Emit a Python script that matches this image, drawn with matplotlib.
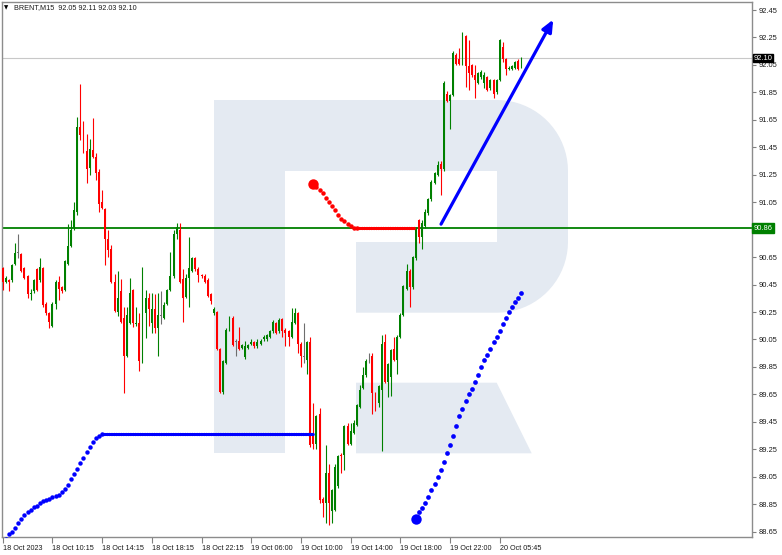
import numpy as np
import matplotlib.pyplot as plt
from matplotlib.patches import Polygon, Rectangle
from matplotlib.transforms import blended_transform_factory

plt.rcParams['font.family'] = ['Liberation Sans', 'DejaVu Sans']

# BRENT M15 candles (open, high, low, close)
opens = [90.57, 90.47, 90.48, 90.48, 90.60, 90.68, 90.67, 90.57, 90.51, 90.38,
         90.40, 90.56, 90.48, 90.57, 90.31, 90.24, 90.15, 90.31, 90.47, 90.43,
         90.41, 90.60, 90.73, 90.86, 90.98, 91.60, 91.55, 91.42, 91.30, 91.43,
         91.38, 91.27, 91.05, 91.00, 90.78, 90.71, 90.47, 90.25, 90.40, 90.21,
         89.93, 90.17, 90.41, 90.16, 90.17, 89.89, 90.24, 90.35, 90.17, 90.27,
         90.13, 90.22, 90.21, 90.31, 90.41, 90.51, 90.82, 90.85, 90.49, 90.36,
         90.50, 90.55, 90.64, 90.56, 90.52, 90.51, 90.48, 90.38, 90.24, 90.25,
         89.98, 89.67, 89.88, 90.12, 90.21, 90.03, 90.04, 89.99, 89.92, 89.99,
         90.02, 90.03, 90.00, 90.02, 90.05, 90.05, 90.07, 90.11, 90.17, 90.11,
         90.20, 90.12, 90.11, 90.07, 90.17, 90.24, 90.02, 89.92, 89.90, 90.03,
         89.37, 89.29, 89.51, 88.89, 88.86, 89.08, 88.80, 88.81, 88.98, 89.21,
         89.21, 89.42, 89.29, 89.37, 89.43, 89.56, 89.70, 89.79, 89.89, 89.93,
         89.66, 89.59, 89.68, 90.03, 89.74, 89.78, 89.98, 89.90, 90.07, 90.23,
         90.42, 90.55, 90.43, 90.64, 90.92, 90.80, 90.88, 90.97, 91.07, 91.19,
         91.25, 91.33, 91.29, 91.84, 91.79, 91.83, 92.12, 92.09, 92.06, 92.26,
         92.04, 92.05, 91.98, 91.92, 91.96, 91.92, 91.96, 91.88, 91.94, 91.85,
         91.94, 92.18, 92.09, 92.02, 92.02, 92.03, 92.08, 92.05]
highs = [90.58, 90.51, 90.49, 90.60, 90.75, 90.82, 90.68, 90.58, 90.52, 90.42,
         90.49, 90.57, 90.64, 90.58, 90.32, 90.25, 90.32, 90.48, 90.51, 90.44,
         90.63, 90.89, 90.92, 91.05, 91.67, 91.91, 91.64, 91.55, 91.51, 91.66,
         91.41, 91.29, 91.14, 91.01, 90.85, 90.74, 90.53, 90.55, 90.49, 90.29,
         90.29, 90.50, 90.42, 90.29, 90.24, 90.58, 90.41, 90.39, 90.39, 90.38,
         90.39, 90.40, 90.32, 90.42, 90.69, 90.85, 90.90, 90.90, 90.56, 90.53,
         90.80, 90.65, 90.65, 90.58, 90.53, 90.53, 90.50, 90.39, 90.29, 90.26,
         89.99, 89.90, 90.13, 90.22, 90.22, 90.05, 90.14, 90.02, 90.04, 90.02,
         90.05, 90.04, 90.05, 90.05, 90.08, 90.09, 90.12, 90.19, 90.18, 90.21,
         90.21, 90.13, 90.12, 90.28, 90.28, 90.25, 90.03, 90.17, 90.04, 90.07,
         89.59, 89.50, 89.55, 88.90, 89.28, 89.14, 88.96, 89.14, 89.21, 89.22,
         89.43, 89.44, 89.44, 89.46, 89.58, 89.72, 89.85, 89.91, 89.95, 89.95,
         89.67, 89.72, 90.08, 90.09, 89.88, 89.98, 90.07, 90.08, 90.24, 90.45,
         90.60, 90.56, 90.66, 90.87, 90.93, 90.92, 91.00, 91.08, 91.21, 91.27,
         91.35, 91.35, 91.93, 91.86, 91.84, 92.15, 92.14, 92.17, 92.29, 92.27,
         92.23, 92.06, 92.05, 92.00, 92.01, 92.00, 91.97, 91.95, 91.95, 91.95,
         92.24, 92.22, 92.10, 92.04, 92.05, 92.08, 92.09, 92.11]
lows = [90.41, 90.46, 90.40, 90.47, 90.59, 90.64, 90.54, 90.49, 90.35, 90.34,
        90.39, 90.40, 90.47, 90.29, 90.23, 90.13, 90.14, 90.27, 90.34, 90.39,
        90.40, 90.59, 90.72, 90.85, 90.96, 91.50, 91.41, 91.19, 91.25, 91.37,
        91.21, 90.98, 91.00, 90.59, 90.65, 90.46, 90.25, 90.22, 90.17, 89.66,
        89.92, 90.16, 90.14, 90.15, 89.82, 89.88, 90.06, 90.15, 90.10, 90.10,
        89.93, 90.16, 90.20, 90.30, 90.40, 90.50, 90.78, 90.46, 90.18, 90.35,
        90.29, 90.54, 90.55, 90.47, 90.50, 90.46, 90.36, 90.31, 90.23, 89.97,
        89.66, 89.65, 89.87, 90.11, 90.00, 89.93, 89.97, 89.98, 89.91, 89.98,
        90.01, 89.99, 89.99, 90.01, 90.04, 90.04, 90.06, 90.10, 90.09, 90.10,
        90.07, 90.00, 90.00, 90.06, 90.16, 89.95, 89.85, 89.88, 89.80, 89.27,
        89.25, 89.25, 88.86, 88.76, 88.71, 88.70, 88.71, 88.80, 88.97, 89.08,
        89.10, 89.28, 89.28, 89.36, 89.42, 89.55, 89.69, 89.78, 89.88, 89.51,
        89.53, 89.56, 89.24, 89.73, 89.63, 89.64, 89.89, 89.80, 90.06, 90.22,
        90.41, 90.29, 90.42, 90.63, 90.75, 90.71, 90.86, 90.96, 91.06, 91.18,
        91.24, 91.10, 91.28, 91.78, 91.58, 91.82, 92.05, 92.05, 92.05, 91.89,
        91.87, 91.96, 91.81, 91.91, 91.95, 91.88, 91.86, 91.87, 91.81, 91.84,
        91.93, 92.07, 91.98, 92.01, 92.01, 92.02, 92.01, 92.03]
closes = [90.47, 90.50, 90.47, 90.59, 90.68, 90.68, 90.55, 90.50, 90.38, 90.39,
          90.48, 90.41, 90.58, 90.30, 90.24, 90.18, 90.31, 90.47, 90.42, 90.40,
          90.62, 90.73, 90.85, 90.99, 91.60, 91.54, 91.42, 91.29, 91.44, 91.38,
          91.26, 91.04, 91.01, 90.78, 90.70, 90.47, 90.26, 90.35, 90.18, 89.93,
          90.23, 90.39, 90.17, 90.17, 89.89, 90.25, 90.35, 90.27, 90.27, 90.13,
          90.23, 90.22, 90.30, 90.41, 90.51, 90.82, 90.87, 90.47, 90.35, 90.50,
          90.57, 90.64, 90.56, 90.52, 90.51, 90.47, 90.37, 90.33, 90.27, 89.98,
          89.67, 89.89, 90.12, 90.21, 90.01, 90.03, 89.98, 90.01, 90.00, 90.01,
          90.03, 90.00, 90.03, 90.04, 90.07, 90.08, 90.11, 90.18, 90.10, 90.19,
          90.11, 90.10, 90.07, 90.18, 90.24, 90.02, 89.93, 89.92, 90.03, 89.28,
          89.29, 89.49, 88.88, 88.86, 89.08, 88.86, 88.95, 89.12, 89.20, 89.20,
          89.42, 89.29, 89.38, 89.44, 89.57, 89.68, 89.79, 89.89, 89.89, 89.66,
          89.59, 89.71, 90.02, 89.74, 89.87, 89.97, 89.90, 90.07, 90.23, 90.44,
          90.55, 90.43, 90.65, 90.86, 90.80, 90.90, 90.98, 91.07, 91.20, 91.26,
          91.32, 91.29, 91.92, 91.79, 91.83, 92.14, 92.06, 92.06, 92.27, 92.04,
          91.99, 91.98, 91.94, 91.99, 92.00, 91.98, 91.87, 91.94, 91.84, 91.94,
          92.23, 92.09, 92.02, 92.03, 92.04, 92.07, 92.02, 92.10]

# x-axis labels, one every 16 bars
time_labels = ['18 Oct 2023', '18 Oct 10:15', '18 Oct 14:15', '18 Oct 18:15',
               '18 Oct 22:15', '19 Oct 06:00', '19 Oct 10:00', '19 Oct 14:00',
               '19 Oct 18:00', '19 Oct 22:00', '20 Oct 05:45']

# price levels
level_green = 90.86
last_price = 92.10

# indicator paths (bar index, price)
blue_low_idx = list(range(0, 33))
blue_low_px = [88.57, 88.60, 88.63, 88.65, 88.68, 88.71, 88.74, 88.77, 88.79, 88.81,
               88.83, 88.84, 88.86, 88.87, 88.88, 88.89, 88.90, 88.91, 88.92, 88.94,
               88.96, 88.99, 89.03, 89.07, 89.11, 89.15, 89.19, 89.23, 89.27, 89.30,
               89.33, 89.35, 89.36]
blue_flat = (32, 100, 89.36)

red_idx = list(range(100, 115))
red_px = [91.18, 91.16, 91.14, 91.115, 91.08, 91.05, 91.02, 90.99, 90.96, 90.93,
          90.91, 90.89, 90.875, 90.865, 90.86]
red_flat = (114, 132.5, 90.86)

blue_up_idx = list(range(133, 168))
blue_up_px = [88.74, 88.79, 88.82, 88.86, 88.90, 88.95, 89.00, 89.05, 89.10, 89.16,
              89.22, 89.28, 89.35, 89.42, 89.49, 89.54, 89.60, 89.65, 89.69, 89.74,
              89.79, 89.85, 89.90, 89.94, 89.98, 90.03, 90.07, 90.11, 90.16, 90.21,
              90.25, 90.29, 90.32, 90.35, 90.39]

arrow_start = (141.1, 90.89)
arrow_end = (177.2, 92.38)

W, H = 782, 555
fig = plt.figure(figsize=(W / 100, H / 100), dpi=100)
fig.patch.set_facecolor('white')

# watermark layer (pixel coordinates)
bg = fig.add_axes([0, 0, 1, 1])
bg.set_xlim(0, W)
bg.set_ylim(H, 0)
bg.axis('off')
wm = '#e4eaf2'
r = 71
x0, x1, y0, y1 = 214, 568, 100, 312.7
t1 = np.linspace(np.pi / 2, 0, 20)
t2 = np.linspace(0, -np.pi / 2, 20)
pts = [(x0, y0)]
pts += [(x1 - r + r * np.cos(t), y0 + r - r * np.sin(t)) for t in t1]
pts += [(x1 - r + r * np.cos(t), y1 - r - r * np.sin(t)) for t in t2]
pts += [(x0, y1)]
bg.add_patch(Polygon(pts, closed=True, color=wm, lw=0))
bg.add_patch(Rectangle((285, 171), 212, 70.7, color='white', lw=0))
bg.add_patch(Rectangle((285, 241), 71, 72, color='white', lw=0))
bg.add_patch(Rectangle((214, 312), 71, 141.3, color=wm, lw=0))
bg.add_patch(Polygon([(356, 382.7), (496.7, 382.7), (531.7, 453.3), (356, 453.3)],
                     closed=True, color=wm, lw=0))

ax = fig.add_axes([2 / W, 1 - 537 / H, 750 / W, 535.5 / H])
ax.set_facecolor('none')

o = np.array(opens)
c = np.array(closes)
idx = np.arange(len(o))
cols = ['#008000' if b > a else '#ff0000' if b < a else '#6e6e6e' for a, b in zip(o, c)]
ax.vlines(idx, lows, highs, colors=cols, lw=0.8, zorder=3)
ax.bar(idx, np.maximum(np.abs(c - o), 0.006), bottom=np.minimum(o, c), width=0.62,
       color=cols, linewidth=0, zorder=3)

ax.axhline(level_green, color='#008000', lw=1.3, zorder=2)
ax.axhline(last_price, color='#c8c8c8', lw=0.8, zorder=1)

dots = dict(linestyle=(0, (0.01, 0.7)), dash_capstyle='round', lw=2.4, zorder=4)
ax.plot(blue_low_idx, blue_low_px, 'o', color='#0000ff', ms=3.2, mew=0, zorder=4)
ax.plot(blue_flat[:2], [blue_flat[2]] * 2, color='#0000ff', **dots)
ax.plot(red_idx, red_px, 'o', color='#ff0000', ms=3.2, mew=0, zorder=4)
ax.plot(red_idx[0], red_px[0], 'o', color='#ff0000', ms=7.5, mew=0, zorder=4)
ax.plot(red_flat[:2], [red_flat[2]] * 2, color='#ff0000', **dots)
ax.plot(blue_up_idx, blue_up_px, 'o', color='#0000ff', ms=3.4, mew=0, zorder=4)
ax.plot(blue_up_idx[0], blue_up_px[0], 'o', color='#0000ff', ms=7.5, mew=0, zorder=4)

ax.annotate('', xy=arrow_end, xytext=arrow_start,
            arrowprops=dict(arrowstyle='-|>,head_length=0.5,head_width=0.22',
                            color='#0000ff', lw=2.3, mutation_scale=14,
                            shrinkA=0, shrinkB=0), zorder=5)

ax.set_xlim(-0.225, 241.2)
ax.set_ylim(88.611, 92.512)

yt = np.round(np.arange(88.65, 92.46, 0.2), 2)
ax.yaxis.tick_right()
ax.set_yticks(yt)
# the 90.85 label sits under the level box, so it is left blank
ax.set_yticklabels(['' if abs(v - 90.85) < 1e-6 else f'{v:.2f}' for v in yt])
ax.set_xticks(np.arange(0, 161, 16))
ax.set_xticklabels(time_labels)
for lbl in ax.get_xticklabels():
    lbl.set_ha('left')
ax.tick_params(axis='y', labelsize=5.4, length=3, width=0.8, color='#808080',
               labelcolor='#1a1a1a', pad=2)
ax.tick_params(axis='x', labelsize=5.2, length=4, width=0.8, color='#808080',
               labelcolor='#1a1a1a', pad=1.5)
for s in ax.spines.values():
    s.set_color('#8c8c8c')
    s.set_linewidth(1.0)

tr = blended_transform_factory(ax.transAxes, ax.transData)
ax.text(1.002, last_price, f'{last_price:.2f}', transform=tr, ha='left', va='center',
        fontsize=5.4, color='white', zorder=6,
        bbox=dict(boxstyle='square,pad=0.12', fc='black', ec='black'))
ax.text(1.002, level_green, f'{level_green:.2f}', transform=tr, ha='left', va='center',
        fontsize=5.4, color='white', zorder=6,
        bbox=dict(boxstyle='square,pad=0.18', fc='#008000', ec='#008000'))

fig.text(4 / W, 1 - 8 / H, '\u25bc', fontsize=4, color='black', va='center',
         family='DejaVu Sans')
fig.text(14 / W, 1 - 8 / H, 'BRENT,M15  92.05 92.11 92.03 92.10', fontsize=5.2,
         color='#1a1a1a', va='center')

fig.savefig('out.png', dpi=100)
